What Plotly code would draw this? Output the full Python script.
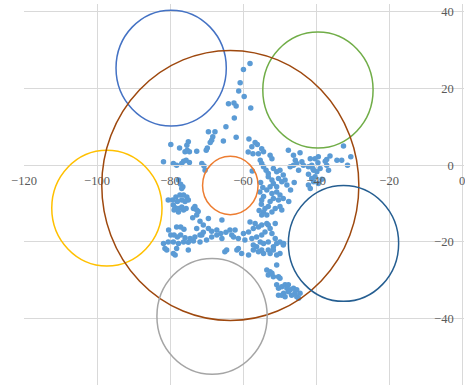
import plotly.graph_objects as go

# Observed points (x, y)
point_x = [
    # upper tail
    -58.1, -59.9, -60.8, -61.2, -59.7, -64.0, -62.5, -61.9, -57.9, -62.4,
    -64.7, -69.5, -67.7, -68.3, -68.6, -69.0, -65.4, -61.9, -58.4, -56.7,
    -56.1, -54.9, -79.8, -75.4, -75.0, -47.6, -58.6, -57.3,
    # left group
    -77.4, -75.9, -75.3, -74.7, -72.7, -70.1, -69.8, -81.8, -79.1, -78.2,
    -76.8, -76.3, -75.6, -74.7, -70.7, -70.4, -77.7, -77.1, -76.5, -76.8,
    -80.5, -79.3, -78.4, -77.3, -76.3, -75.4, -75.0, -75.9, -76.8, -78.0,
    -79.1, -78.6, -77.7, -76.8, -75.6, -76.3, -77.7, -78.9, -73.6, -72.7,
    -73.8, -71.8, -70.9, -69.5, -68.6, -67.2, -66.1, -64.7, -63.6, -63.1,
    -78.2, -77.1, -76.2, -80.4, -79.8, -78.9, -78.0, -77.1, -75.9, -74.5,
    -73.2, -71.8, -70.9, -81.8, -80.5, -79.1, -77.7, -76.3, -75.0, -73.6,
    -71.8, -70.0, -68.6, -67.2, -73.2, -72.3, -72.7, -71.3, -72.7, -69.5,
    -71.3,
    # lower-left group
    -81.4, -78.2, -79.1, -78.6, -75.0, -64.5, -61.3, -65.8, -65.8, -65.0,
    -80.9,
    # central column
    -57.6, -54.4, -55.8, -52.6, -52.1, -46.2, -45.7, -45.3, -43.9, -43.5,
    -41.6, -41.2, -40.7, -55.3, -54.9, -54.4, -53.7, -53.1, -51.7, -50.8,
    -49.9, -49.0, -50.3, -49.4, -48.5, -48.0, -53.1, -52.1, -51.7, -50.8,
    -52.6, -53.5, -52.1, -50.8, -49.9, -49.0, -50.3, -51.7, -52.6, -53.1,
    -54.0, -54.4, -54.9, -53.5, -52.1, -51.2, -49.9, -49.4, -54.4, -54.9,
    -41.2, -42.1, -41.6, -40.7, -58.1, -56.7, -55.8, -57.2, -58.5, -59.9,
    -62.2, -62.6, -61.3, -59.5, -57.6, -56.3, -54.9, -54.0, -53.1, -52.6,
    -52.1, -51.2, -49.9, -50.8, -55.3, -54.4, -53.1, -54.9, -53.5, -51.2,
    -57.2, -51.7, -48.9, -55.2, -54.6, -55.4, -55.0, -55.6, -57.5, -47.0,
    -46.0, -47.5,
    # right group
    -32.5, -30.5, -31.4, -34.3, -33.0, -36.2, -37.1, -39.4, -40.3, -39.5,
    -37.5, -37.1, -36.6, -39.8, -38.9, -40.3, -38.4, -39.4, -42.1, -40.9,
    -44.4, -44.8, -46.2, -47.1, -42.1,
    # lower tail
    -61.7, -60.4, -58.5, -57.2, -56.3, -55.8, -54.9, -54.4, -53.1, -52.6,
    -51.7, -50.8, -49.9, -49.0, -50.8, -53.5, -52.6, -53.1, -52.1, -51.7,
    -50.3, -49.9, -50.8, -50.3, -49.4, -48.5, -47.6, -48.0, -47.1, -46.2,
    -45.3, -45.8, -47.6, -48.9, -50.3, -49.4, -48.5, -46.7, -45.3, -44.4,
    -44.8,
]
point_y = [
    # upper tail
    26.5, 24.9, 21.5, 19.3, 17.9, 16.0, 16.2, 15.4, 14.9, 12.3,
    10.0, 8.7, 8.7, 7.4, 6.5, 5.9, 6.3, 7.3, 6.8, 5.9,
    5.4, 4.3, 5.4, 5.2, 6.1, 3.9, 3.4, 3.0,
    # left group
    4.5, 3.5, 3.9, 3.5, 3.6, 3.9, 4.5, 0.9, 0.4, 0.0,
    0.4, 1.0, 1.3, 0.7, -0.2, -1.3, -3.9, -5.0, -5.6, -6.1,
    -9.1, -9.1, -8.3, -7.8, -7.8, -8.3, -9.1, -9.5, -9.1, -9.5,
    -10.4, -11.1, -11.3, -10.9, -11.3, -11.7, -12.2, -11.7, -11.3, -13.0,
    -13.7, -14.6, -15.6, -16.5, -17.2, -16.9, -17.8, -17.5, -16.9, -18.2,
    -16.1, -16.1, -16.7, -16.9, -18.2, -18.2, -18.7, -18.2, -18.9, -19.1,
    -18.7, -18.2, -17.5, -20.4, -20.0, -20.0, -20.4, -20.0, -20.1, -19.8,
    -20.0, -19.5, -18.7, -18.2, -10.8, -12.1, -16.5, -18.2, -11.7, -13.9,
    0.4,
    # lower-left group
    -21.7, -21.7, -23.0, -23.4, -22.1, -22.1, -21.7, -14.3, -19.1, -22.6,
    -22.1,
    # central column
    4.8, 3.5, 3.0, 2.6, 1.7, 2.6, 1.3, 0.4, 0.9, 0.0,
    1.7, 0.0, -1.3, 1.3, 0.4, -0.4, -1.3, -2.2, -0.9, -1.7,
    -1.3, -2.6, -3.5, -4.3, -3.9, -5.2, -3.0, -3.9, -4.8, -5.6,
    -5.6, -6.5, -7.4, -7.0, -7.8, -8.7, -9.1, -8.7, -9.5, -10.8,
    -11.3, -12.2, -13.0, -13.0, -12.2, -11.3, -10.8, -11.7, -8.2, -9.1,
    -3.5, -5.2, -6.1, -4.3, -14.8, -15.2, -16.1, -16.5, -17.4, -17.8,
    -16.9, -18.7, -19.1, -19.5, -19.1, -18.7, -18.2, -17.4, -15.6, -16.5,
    -17.8, -19.1, -20.0, -20.4, -20.0, -20.4, -20.0, -15.6, -15.2, -15.2,
    -20.8, -21.3, -20.4, -4.5, -5.8, -7.0, -10.2, -11.8, -1.5, -6.5,
    -4.5, -9.5,
    # right group
    5.0, 2.2, 0.0, 1.3, 1.3, 2.4, 1.5, 2.2, 1.7, 0.6,
    1.0, 0.0, -1.3, -1.7, -0.9, -3.0, -3.7, -4.8, -0.4, -0.9,
    3.2, -1.3, 0.0, -0.4, -2.4,
    # lower tail
    -22.1, -23.0, -23.4, -22.1, -21.3, -22.6, -22.1, -23.0, -22.1, -23.0,
    -22.1, -23.4, -23.0, -20.8, -26.0, -27.3, -27.8, -28.6, -28.2, -29.1,
    -29.1, -29.5, -31.2, -32.1, -31.7, -31.2, -31.2, -32.1, -32.5, -32.1,
    -32.5, -33.4, -33.0, -33.4, -33.9, -33.9, -34.3, -33.9, -34.3, -33.4,
    -34.7,
]

# Reference circles: centre x, centre y, radius
circle_cx = [-79.7, -39.5, -97.3, -63.5, -63.5, -32.5, -68.5]
circle_cy = [25.3, 19.6, -11.2, -5.3, -5.3, -20.4, -39.4]
circle_r = [15.1, 15.1, 15.1, 35.2, 7.6, 15.1, 15.1]
circle_colors = ["#4472C4", "#70AD47", "#FFC000", "#9E480E", "#ED7D31", "#255E91", "#A5A5A5"]

x_ticks = [-120, -100, -80, -60, -40, -20, 0]
y_ticks = [-40, -20, 0, 20, 40]

x_range = [-120, 0.5]
y_range = [-57.3, 42]

fig = go.Figure()
fig.add_trace(go.Scatter(
    x=point_x, y=point_y, mode="markers",
    marker=dict(size=5.5, color="#5B9BD5", line=dict(width=0)),
    hoverinfo="x+y", showlegend=False,
))

for cx, cy, r, col in zip(circle_cx, circle_cy, circle_r, circle_colors):
    fig.add_shape(type="circle", xref="x", yref="y",
                  x0=cx - r, x1=cx + r, y0=cy - r, y1=cy + r,
                  line=dict(color=col, width=1.5), layer="above")

grid = "#D9D9D9"
tick_font = dict(family="Liberation Serif, Times New Roman, serif", size=12.5, color="#595959")

# Axes cross at the origin, so each is placed where the other reads zero
x_pos = (0 - y_range[0]) / (y_range[1] - y_range[0])
y_pos = (0 - x_range[0]) / (x_range[1] - x_range[0])

fig.update_layout(
    width=465, height=385,
    margin=dict(l=24, r=1, t=4, b=0),
    paper_bgcolor="white", plot_bgcolor="white",
    xaxis=dict(range=x_range, tickvals=x_ticks, showgrid=True, gridcolor=grid, gridwidth=1,
               zeroline=False, showline=True, linecolor=grid, linewidth=1,
               anchor="free", position=x_pos, ticks="", tickfont=tick_font,
               ticklabelstandoff=4, ticklabeloverflow="allow"),
    yaxis=dict(range=y_range, tickvals=y_ticks, showgrid=True, gridcolor=grid, gridwidth=1,
               zeroline=False, showline=True, linecolor=grid, linewidth=1,
               anchor="free", position=y_pos, side="left", ticks="", tickfont=tick_font,
               ticklabelstandoff=6),
)

fig.write_html("out.html")
